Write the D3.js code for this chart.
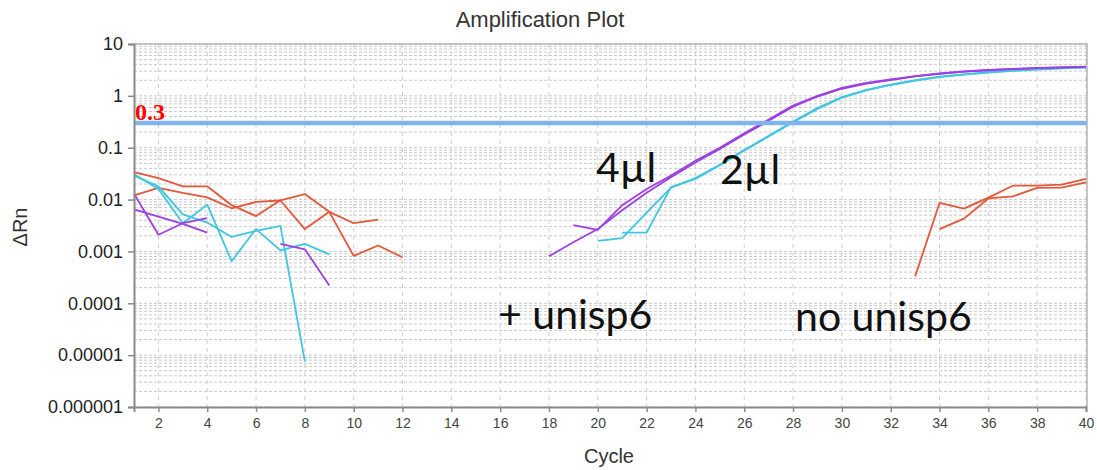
<!DOCTYPE html>
<html lang="en">
<head>
<meta charset="UTF-8">
<title>Amplification Plot</title>
<script src="https://d3js.org/d3.v7.min.js"></script>
<style>
  body { margin: 0; background: #fff; }
  text { font-family: "Liberation Sans", Arial, sans-serif; }
</style>
</head>
<body>
<script>
  // ΔRn per well, first value belongs to the start cycle
  const red1Start = 1;
  const red1 = [0.034, 0.026, 0.018, 0.018, 0.0078, 0.0048, 0.0097, 0.0128, 0.0058, 0.0035, 0.0041];
  const red2Start = 1;
  const red2 = [0.012, 0.0168, 0.0134, 0.011, 0.0068, 0.009, 0.0096, 0.0027, 0.0058, 0.00082, 0.0013, 0.00077];
  const red3Start = 33;
  const red3 = [0.00033, 0.0086, 0.0067, 0.0109, 0.0185, 0.0185, 0.0195, 0.025];
  const red4Start = 34;
  const red4 = [0.0027, 0.0043, 0.0105, 0.0115, 0.0168, 0.017, 0.0215];

  const cyan1Start = 1;
  const cyan1 = [0.031, 0.016, 0.0035, 0.008, 0.00065, 0.0027, 0.00105, 0.0014, 0.00088];
  const cyan2Start = 1;
  const cyan2 = [0.029, 0.018, 0.0052, 0.0036, 0.0019, 0.0025, 0.0031, 0.0000075];
  const cyanAStart = 20;
  const cyanA = [0.0016, 0.0018, 0.0056, 0.017, 0.026, 0.047, 0.09, 0.17, 0.32, 0.58, 0.95,
                 1.3, 1.65, 2.0, 2.35, 2.6, 2.87, 3.07, 3.27, 3.43, 3.58];
  const cyanBStart = 21;
  const cyanB = [0.0023, 0.0023, 0.0174, 0.025, 0.046, 0.088, 0.165, 0.31, 0.56, 0.92,
                 1.27, 1.62, 1.97, 2.3, 2.57, 2.82, 3.02, 3.22, 3.38, 3.52];

  const purple1Start = 1;
  const purple1 = [0.013, 0.0021, 0.0035, 0.0044];
  const purple2Start = 1;
  const purple2 = [0.0065, 0.0047, 0.0034, 0.0023];
  const purple3Start = 7;
  const purple3 = [0.0014, 0.0011, 0.00022];
  const purpleAStart = 18;
  const purpleA = [0.00081, 0.0015, 0.0027, 0.0062, 0.0135, 0.027, 0.052, 0.095, 0.18, 0.33,
                   0.62, 0.97, 1.37, 1.72, 2.02, 2.37, 2.67, 2.92, 3.12, 3.28, 3.42, 3.52, 3.62];
  const purpleBStart = 19;
  const purpleB = [0.0032, 0.0026, 0.0078, 0.016, 0.029, 0.056, 0.1, 0.19, 0.35, 0.65,
                   1.0, 1.42, 1.77, 2.07, 2.4, 2.7, 2.95, 3.15, 3.3, 3.45, 3.55, 3.66];

  const threshold = 0.3;
  const xTicks = [2, 4, 6, 8, 10, 12, 14, 16, 18, 20, 22, 24, 26, 28, 30, 32, 34, 36, 38, 40];
  const yTicks = [10, 1, 0.1, 0.01, 0.001, 0.0001, 0.00001, 0.000001];
  const yTickLabels = ["10", "1", "0.1", "0.01", "0.001", "0.0001", "0.00001", "0.000001"];

  const w = 1097, h = 470;
  const padL = 134, padR = 1086, padT = 44, padB = 407;

  const xScale = d3.scaleLinear().domain([1, 40]).range([padL, padR]);
  const yScale = d3.scaleLog().domain([0.000001, 10]).range([padB, padT]);

  const svg = d3.select("body").append("svg")
    .attr("width", w)
    .attr("height", h);

  // grid
  svg.append("g").selectAll("line")
    .data(yScale.ticks())
    .enter().append("line")
    .attr("x1", padL).attr("x2", padR + 1)
    .attr("y1", d => yScale(d)).attr("y2", d => yScale(d))
    .attr("stroke", "#c9c9c9")
    .attr("stroke-dasharray", "3,2");

  svg.append("g").selectAll("line")
    .data(xTicks)
    .enter().append("line")
    .attr("x1", d => xScale(d)).attr("x2", d => xScale(d))
    .attr("y1", padT).attr("y2", padB)
    .attr("stroke", "#cfcfcf")
    .attr("stroke-dasharray", "4,4");

  // frame top + right
  svg.append("path")
    .attr("d", `M${padL},${padT}H${padR + 1}V${padB}`)
    .attr("fill", "none")
    .attr("stroke", "#b4b4b4")
    .attr("stroke-width", 1.5);

  const series = [
    { s: red1Start, v: red1, c: "#e4573a" },
    { s: red2Start, v: red2, c: "#e4573a" },
    { s: red3Start, v: red3, c: "#e4573a" },
    { s: red4Start, v: red4, c: "#e4573a" },
    { s: cyan1Start, v: cyan1, c: "#3fc6e0" },
    { s: cyan2Start, v: cyan2, c: "#3fc6e0" },
    { s: cyanAStart, v: cyanA, c: "#3fc6e0" },
    { s: cyanBStart, v: cyanB, c: "#3fc6e0" },
    { s: purple1Start, v: purple1, c: "#9c3fe4" },
    { s: purple2Start, v: purple2, c: "#9c3fe4" },
    { s: purple3Start, v: purple3, c: "#9c3fe4" },
    { s: purpleAStart, v: purpleA, c: "#9c3fe4" },
    { s: purpleBStart, v: purpleB, c: "#9c3fe4" },
  ];

  const line = d3.line()
    .x(d => xScale(d[0]))
    .y(d => yScale(d[1]));

  svg.append("g").selectAll("path")
    .data(series)
    .enter().append("path")
    .attr("d", d => line(d.v.map((y, i) => [d.s + i, y])))
    .attr("fill", "none")
    .attr("stroke", d => d.c)
    .attr("stroke-width", 1.8)
    .attr("stroke-linejoin", "round");

  // threshold
  svg.append("line")
    .attr("x1", padL).attr("x2", padR + 1)
    .attr("y1", yScale(threshold)).attr("y2", yScale(threshold))
    .attr("stroke", "#7fb5ec")
    .attr("stroke-width", 4.5);

  svg.append("text")
    .attr("x", padL + 1)
    .attr("y", yScale(threshold) - 3)
    .attr("fill", "#f00")
    .style("font-family", "'Liberation Serif', serif")
    .style("font-weight", "bold")
    .style("font-size", "24px")
    .text("0.3");

  // axes
  const yAxis = d3.axisLeft(yScale)
    .tickValues(yTicks)
    .tickFormat((d, i) => yTickLabels[i])
    .tickSize(6)
    .tickPadding(5);
  const gy = svg.append("g")
    .attr("transform", `translate(${padL},0)`)
    .call(yAxis);
  gy.selectAll("text").style("font-size", "18px").attr("fill", "#222");

  const xAxis = d3.axisBottom(xScale)
    .tickValues(xTicks)
    .tickSize(5)
    .tickPadding(6);
  const gx = svg.append("g")
    .attr("transform", `translate(0,${padB})`)
    .call(xAxis);
  gx.selectAll("text").style("font-size", "14px").attr("fill", "#444");

  [gx, gy].forEach(g => {
    g.select(".domain").attr("stroke", "#8a8a8a").attr("stroke-width", 2);
    g.selectAll(".tick line").attr("stroke", "#8a8a8a").attr("stroke-width", 1.5);
  });

  // titles
  svg.append("text")
    .attr("x", 540).attr("y", 27)
    .attr("text-anchor", "middle")
    .style("font-size", "22px")
    .attr("fill", "#333")
    .text("Amplification Plot");

  svg.append("text")
    .attr("x", 609).attr("y", 463)
    .attr("text-anchor", "middle")
    .style("font-size", "20px")
    .attr("fill", "#333")
    .text("Cycle");

  svg.append("text")
    .attr("transform", "translate(27,227) rotate(-90)")
    .attr("text-anchor", "middle")
    .style("font-size", "20px")
    .attr("fill", "#333")
    .text("ΔRn");

  // annotations
  const notes = [
    { t: "4µl", x: 596, y: 182 },
    { t: "2µl", x: 720, y: 184 },
    { t: "+ unisp6", x: 498, y: 329 },
    { t: "no unisp6", x: 795, y: 331 },
  ];
  svg.append("g").selectAll("text")
    .data(notes)
    .enter().append("text")
    .attr("x", d => d.x).attr("y", d => d.y)
    .style("font-family", "Lato, 'Open Sans', sans-serif")
    .style("font-size", "41px")
    .attr("fill", "#111")
    .text(d => d.t);
</script>
</body>
</html>
